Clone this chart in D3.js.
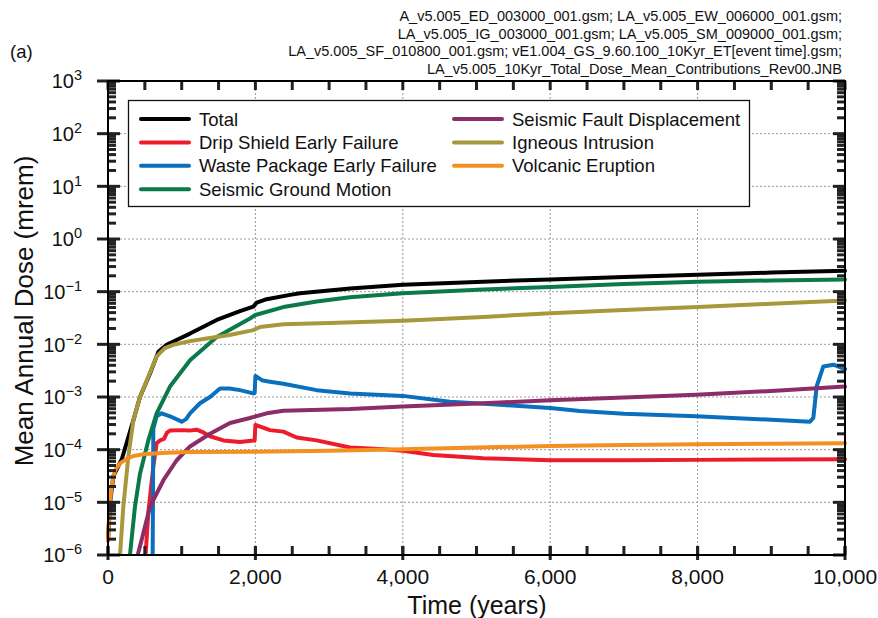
<!DOCTYPE html>
<html>
<head>
<meta charset="utf-8">
<script src="https://cdn.jsdelivr.net/npm/d3@7"></script>
<style>
  body { margin: 0; background: #fff; }
  svg { font-family: "Liberation Sans", Arial, sans-serif; }
</style>
</head>
<body>
<svg width="878" height="618"></svg>
<script>
// Series data: time (years) and mean annual dose (mrem)
const totalT = [0, 27, 72, 163, 186, 250, 321, 344, 434, 570, 683, 796, 950, 1113, 1475, 1800, 1972, 2018, 2153, 2470, 2605, 3284, 4000, 5092, 6000, 7000, 8000, 9000, 10000];
const totalV = [1.9e-6, 9.5e-6, 3.1e-5, 5.7e-5, 6.5e-5, 1.3e-4, 2.8e-4, 3.6e-4, 1.0e-3, 2.8e-3, 7.2e-3, 9.8e-3, 1.25e-2, 1.6e-2, 2.9e-2, 4.3e-2, 5.2e-2, 6.2e-2, 7.2e-2, 8.7e-2, 9.3e-2, 0.115, 0.135, 0.155, 0.17, 0.19, 0.21, 0.23, 0.25];

const dripT = [510, 547, 615, 660, 705, 760, 800, 841, 1000, 1100, 1203, 1300, 1384, 1565, 1791, 1972, 1990, 2000, 2198, 2379, 2560, 2831, 3284, 3736, 4000, 4414, 5092, 6000, 7000, 8000, 9000, 10000];
const dripV = [1e-6, 6.3e-6, 4.8e-5, 1.32e-4, 1.5e-4, 1.6e-4, 2.1e-4, 2.3e-4, 2.35e-4, 2.3e-4, 2.4e-4, 2.1e-4, 1.8e-4, 1.5e-4, 1.4e-4, 1.5e-4, 1.5e-4, 2.95e-4, 2.35e-4, 2.2e-4, 1.7e-4, 1.5e-4, 1.1e-4, 1.02e-4, 9.5e-5, 7.9e-5, 6.9e-5, 6.3e-5, 6.3e-5, 6.4e-5, 6.5e-5, 6.6e-5];

const wasteT = [606, 615, 660, 728, 841, 1000, 1060, 1113, 1248, 1384, 1520, 1650, 1791, 1972, 1990, 2000, 2100, 2198, 2379, 2831, 3284, 4000, 4640, 5319, 6000, 6404, 7000, 7978, 9000, 9525, 9570, 9616, 9706, 9842, 10000];
const wasteV = [1e-6, 2.5e-4, 4.3e-4, 4.9e-4, 4.3e-4, 3.4e-4, 3.8e-4, 4.9e-4, 7.6e-4, 1.0e-3, 1.45e-3, 1.45e-3, 1.35e-3, 1.17e-3, 1.2e-3, 2.5e-3, 2.05e-3, 1.95e-3, 1.78e-3, 1.35e-3, 1.17e-3, 1.05e-3, 8.1e-4, 7.1e-4, 6.2e-4, 5.4e-4, 4.8e-4, 4.3e-4, 3.7e-4, 3.4e-4, 4.0e-4, 1.6e-3, 3.8e-3, 4.1e-3, 3.4e-3];

const groundT = [298, 366, 434, 547, 660, 841, 1113, 1475, 1927, 2000, 2379, 2831, 3284, 4000, 5092, 6000, 7000, 8000, 9000, 10000];
const groundV = [1e-6, 8.3e-6, 3.5e-5, 1.5e-4, 4.9e-4, 1.58e-3, 5.0e-3, 1.38e-2, 3.1e-2, 3.6e-2, 5.1e-2, 6.5e-2, 7.8e-2, 9.3e-2, 0.11, 0.123, 0.14, 0.155, 0.163, 0.17];

const faultT = [403, 457, 570, 750, 932, 1113, 1384, 1655, 1927, 2153, 2379, 3284, 4000, 5092, 6000, 7000, 7978, 9000, 10000];
const faultV = [1e-6, 1.95e-6, 8.3e-6, 2.6e-5, 6.3e-5, 1.15e-4, 2.0e-4, 3.2e-4, 4.0e-4, 4.9e-4, 5.5e-4, 5.9e-4, 6.6e-4, 7.6e-4, 8.7e-4, 9.8e-4, 1.1e-3, 1.3e-3, 1.58e-3];

const igneousT = [163, 208, 276, 344, 434, 550, 660, 770, 886, 1113, 1339, 1650, 1972, 2063, 2379, 3000, 4000, 5092, 6000, 7000, 8000, 9000, 10000];
const igneousV = [1e-6, 8.3e-6, 7.4e-5, 3.6e-4, 1.0e-3, 2.5e-3, 5.9e-3, 8.5e-3, 9.8e-3, 1.15e-2, 1.29e-2, 1.5e-2, 1.86e-2, 2.14e-2, 2.4e-2, 2.55e-2, 2.8e-2, 3.3e-2, 3.9e-2, 4.5e-2, 5.1e-2, 5.9e-2, 6.8e-2];

const volcanicT = [0, 15, 27, 45, 72, 110, 163, 250, 344, 500, 796, 1113, 2000, 3000, 4000, 5000, 6000, 7000, 8000, 9000, 10000];
const volcanicV = [1.9e-6, 5e-6, 9.5e-6, 1.8e-5, 3.1e-5, 4.4e-5, 5.5e-5, 6.6e-5, 7.6e-5, 8.3e-5, 8.7e-5, 9.0e-5, 9.1e-5, 9.5e-5, 1.02e-4, 1.1e-4, 1.17e-4, 1.22e-4, 1.27e-4, 1.30e-4, 1.32e-4];

const seriesNames = ["Total", "Drip Shield Early Failure", "Waste Package Early Failure", "Seismic Ground Motion",
  "Seismic Fault Displacement", "Igneous Intrusion", "Volcanic Eruption"];
const seriesColors = ["#000000", "#ec1c2a", "#0a6fbd", "#0b7a4b", "#8c2c68", "#a8983c", "#f3901f"];

const xTicks = [0, 2000, 4000, 6000, 8000, 10000];
const yExponents = [-6, -5, -4, -3, -2, -1, 0, 1, 2, 3];

const fileLines = [
  "A_v5.005_ED_003000_001.gsm; LA_v5.005_EW_006000_001.gsm;",
  "LA_v5.005_IG_003000_001.gsm; LA_v5.005_SM_009000_001.gsm;",
  "LA_v5.005_SF_010800_001.gsm; vE1.004_GS_9.60.100_10Kyr_ET[event time].gsm;",
  "LA_v5.005_10Kyr_Total_Dose_Mean_Contributions_Rev00.JNB"
];

const seriesT = [totalT, dripT, wasteT, groundT, faultT, igneousT, volcanicT];
const seriesV = [totalV, dripV, wasteV, groundV, faultV, igneousV, volcanicV];

// layout
var margin = {top: 81, left: 108},
    width = 737,
    height = 474;

var svg = d3.select("svg");
var g = svg.append("g").attr("transform", "translate(" + margin.left + "," + margin.top + ")");

var x = d3.scaleLinear().domain([0, 10000]).range([0, width]);
var y = d3.scaleLog().domain([1e-6, 1e3]).range([height, 0]);

var majorY = yExponents.map(function(e) { return Math.pow(10, e); });
var minorY = [];
yExponents.forEach(function(e) {
  if (e >= 3) return;
  for (var k = 2; k <= 9; k++) minorY.push(k * Math.pow(10, e));
});
var minorX = d3.range(0, 10001, 500);

// grid
var grid = g.append("g");
grid.selectAll("line.gy").data(majorY.slice(1, -1)).enter().append("line")
  .attr("x1", 0).attr("x2", width)
  .attr("y1", function(d) { return y(d); }).attr("y2", function(d) { return y(d); });
grid.selectAll("line.gx").data(xTicks.slice(1, -1)).enter().append("line")
  .attr("y1", 0).attr("y2", height)
  .attr("x1", function(d) { return x(d); }).attr("x2", function(d) { return x(d); });
grid.selectAll("line")
  .attr("stroke", "#9a9a9a").attr("stroke-width", 1).attr("stroke-dasharray", "2,2");

// series lines
g.append("clipPath").attr("id", "clip").append("rect")
  .attr("x", -2).attr("y", 0).attr("width", width + 4).attr("height", height + 1);

var valueline = d3.line()
  .x(function(d) { return x(d[0]); })
  .y(function(d) { return y(d[1]); });

var lines = g.append("g").attr("clip-path", "url(#clip)");
seriesT.forEach(function(ts, i) {
  var pts = ts.map(function(t, j) { return [t, seriesV[i][j]]; });
  lines.append("path")
    .attr("d", valueline(pts))
    .attr("fill", "none")
    .attr("stroke", seriesColors[i])
    .attr("stroke-width", 4)
    .attr("stroke-linejoin", "round")
    .attr("stroke-linecap", "round");
});

// tick marks as small filled rects
function yTickMarks(vals, x0, len) {
  g.append("g").selectAll("rect").data(vals).enter().append("rect")
    .attr("x", x0).attr("y", function(d) { return y(d) - 1.5; })
    .attr("width", len).attr("height", 3).attr("fill", "#222");
}
function xTickMarks(vals, y0, len) {
  g.append("g").selectAll("rect").data(vals).enter().append("rect")
    .attr("x", function(d) { return x(d) - 1.5; }).attr("y", y0)
    .attr("width", 3).attr("height", len).attr("fill", "#222");
}
yTickMarks(minorY, 0, 8);
yTickMarks(majorY, -11, 23);
yTickMarks(minorY, width - 8, 8);
yTickMarks(majorY, width - 12, 12);
xTickMarks(minorX, height - 9, 9);
xTickMarks(xTicks, height - 9, 14);
xTickMarks(minorX, 0, 9);

// tick labels
var yl = g.append("g").selectAll("text").data(majorY).enter().append("text")
  .attr("x", -26).attr("y", function(d) { return y(d); }).attr("dy", "0.36em")
  .style("text-anchor", "end").style("font-size", "20px").attr("fill", "#111");
yl.append("tspan").text("10");
yl.append("tspan").attr("dy", -8).style("font-size", "14.5px")
  .text(function(d) { var e = Math.round(Math.log10(d)); return e < 0 ? "\u2212" + (-e) : e; });

g.append("g").selectAll("text").data(xTicks).enter().append("text")
  .attr("x", function(d) { return x(d); }).attr("y", height + 29)
  .style("text-anchor", "middle").style("font-size", "21px").attr("fill", "#111")
  .text(d3.format(","));

// frame
g.append("rect").attr("width", width).attr("height", height)
  .attr("fill", "none").attr("stroke", "#000").attr("stroke-width", 2);

// legend
var legend = svg.append("g");
legend.append("rect")
  .attr("x", 128.5).attr("y", 100.5).attr("width", 621).attr("height", 106)
  .attr("fill", "#fff").attr("stroke", "#111").attr("stroke-width", 1.3);
seriesNames.forEach(function(name, i) {
  var col = i < 4 ? 0 : 1;
  var row = i < 4 ? i : i - 4;
  var lx = col === 0 ? 141 : 454;
  var ly = 119 + row * 23.4;
  legend.append("line")
    .attr("x1", lx).attr("x2", lx + 48).attr("y1", ly).attr("y2", ly)
    .attr("stroke", seriesColors[i]).attr("stroke-width", 4).attr("stroke-linecap", "round");
  legend.append("text")
    .attr("x", lx + 58).attr("y", ly + 6.5)
    .style("font-size", "18.5px").attr("fill", "#111")
    .text(name);
});

// titles
svg.append("text")
  .attr("x", 477).attr("y", 614)
  .style("text-anchor", "middle").style("font-size", "25px").attr("fill", "#111")
  .text("Time (years)");

svg.append("text")
  .attr("transform", "translate(33,311) rotate(-90)")
  .style("text-anchor", "middle").style("font-size", "26px").attr("fill", "#111")
  .text("Mean Annual Dose (mrem)");

svg.append("text").attr("x", 10).attr("y", 58)
  .style("font-size", "18.5px").attr("fill", "#111").text("(a)");

svg.selectAll("text.fileline").data(fileLines).enter().append("text")
  .attr("class", "fileline")
  .attr("x", 842).attr("y", function(d, i) { return 21 + i * 17.5; })
  .style("text-anchor", "end").style("font-size", "14.5px").attr("fill", "#111")
  .text(function(d) { return d; });
</script>
</body>
</html>
